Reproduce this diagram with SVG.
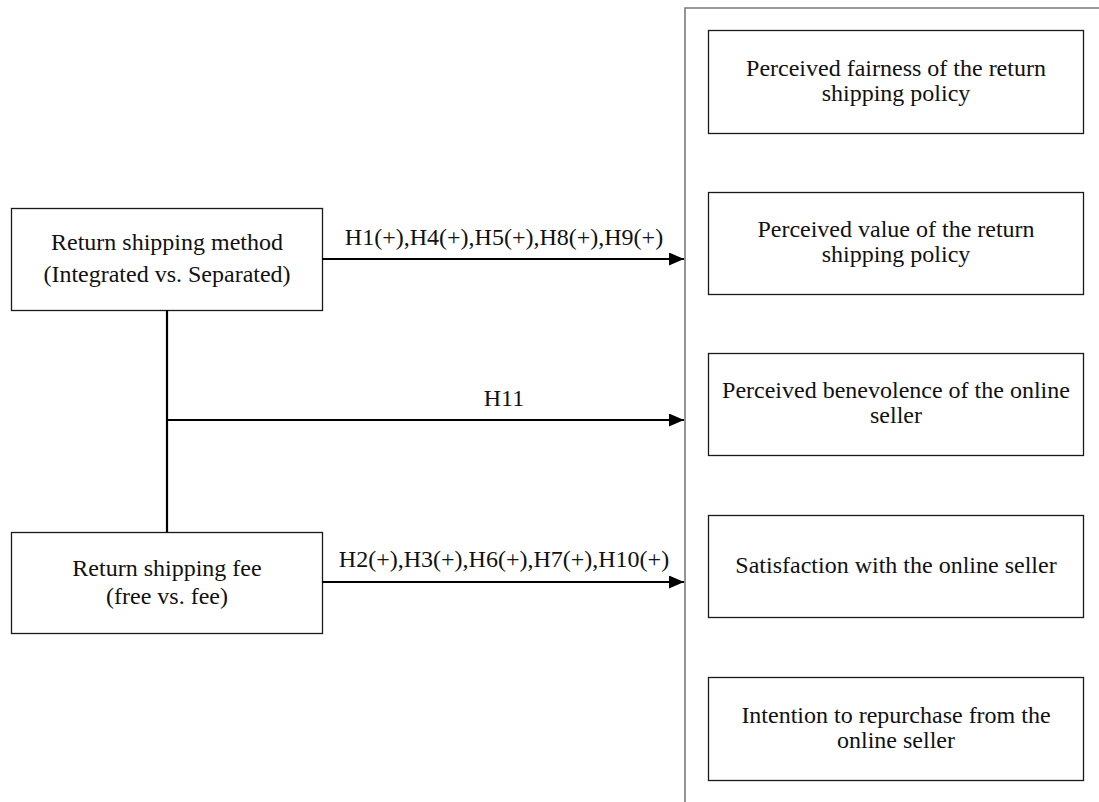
<svg xmlns="http://www.w3.org/2000/svg" width="1099" height="802" viewBox="0 0 1099 802">
  <style>
    .box { fill: #ffffff; stroke: #1a1a1a; stroke-width: 1.3; }
    .lbl { font-family: "Liberation Serif", "Times New Roman", serif; font-size: 24px; fill: #111111; text-anchor: middle; }
    .wire { fill: none; stroke: #000000; stroke-width: 2.2; }
    .frame { fill: none; stroke: #7a7a7a; stroke-width: 1.6; }
  </style>
  <defs>
    <marker id="arrow" markerUnits="userSpaceOnUse" markerWidth="16" markerHeight="14" refX="15" refY="6.5" orient="auto">
      <polygon points="0,0 15,6.5 0,13" fill="#000000"/>
    </marker>
  </defs>
  <rect width="1099" height="802" fill="#ffffff"/>

  <!-- outcome panel border -->
  <path class="frame" d="M1099,8 H685 V802"/>

  <!-- independent variables -->
  <g id="method">
    <rect class="box" x="11.5" y="208.5" width="311" height="102"/>
    <text class="lbl" x="167" y="250">Return shipping method</text>
    <text class="lbl" x="167" y="282">(Integrated vs. Separated)</text>
  </g>
  <g id="fee">
    <rect class="box" x="11.5" y="532.5" width="311" height="101"/>
    <text class="lbl" x="167" y="576">Return shipping fee</text>
    <text class="lbl" x="167" y="604">(free vs. fee)</text>
  </g>

  <!-- dependent variables -->
  <g id="fairness">
    <rect class="box" x="708.5" y="30.5" width="375" height="103"/>
    <text class="lbl" x="896" y="76">Perceived fairness of the return</text>
    <text class="lbl" x="896" y="101">shipping policy</text>
  </g>
  <g id="value">
    <rect class="box" x="708.5" y="192.5" width="375" height="102"/>
    <text class="lbl" x="896" y="237">Perceived value of the return</text>
    <text class="lbl" x="896" y="262">shipping policy</text>
  </g>
  <g id="benevolence">
    <rect class="box" x="708.5" y="353.5" width="375" height="102"/>
    <text class="lbl" x="896" y="398">Perceived benevolence of the online</text>
    <text class="lbl" x="896" y="423">seller</text>
  </g>
  <g id="satisfaction">
    <rect class="box" x="708.5" y="515.5" width="375" height="102"/>
    <text class="lbl" x="896" y="573">Satisfaction with the online seller</text>
  </g>
  <g id="repurchase">
    <rect class="box" x="708.5" y="677.5" width="375" height="103"/>
    <text class="lbl" x="896" y="723">Intention to repurchase from the</text>
    <text class="lbl" x="896" y="748">online seller</text>
  </g>

  <!-- connectors -->
  <g id="connectors">
    <line class="wire" x1="167" y1="310" x2="167" y2="532"/>
    <line class="wire" x1="322" y1="259" x2="684" y2="259" marker-end="url(#arrow)"/>
    <line class="wire" x1="167" y1="420" x2="684" y2="420" marker-end="url(#arrow)"/>
    <line class="wire" x1="322" y1="582" x2="684" y2="582" marker-end="url(#arrow)"/>
    <text class="lbl" x="504" y="245">H1(+),H4(+),H5(+),H8(+),H9(+)</text>
    <text class="lbl" x="504" y="406">H11</text>
    <text class="lbl" x="504" y="567">H2(+),H3(+),H6(+),H7(+),H10(+)</text>
  </g>
</svg>
